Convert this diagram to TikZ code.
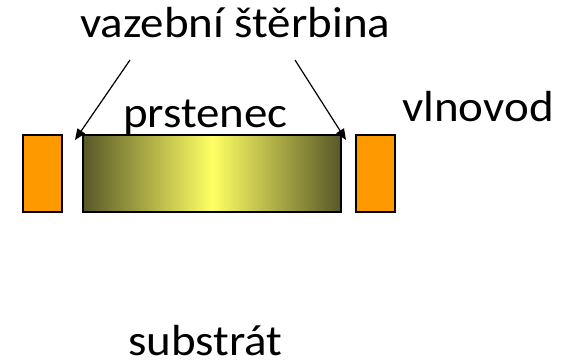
\documentclass[tikz,border=0pt]{standalone}
\usepackage{fontspec}
\setmainfont{Carlito}[FakeStretch=1.08]
\usetikzlibrary{arrows.meta}
\definecolor{wgorange}{RGB}{255,153,0}
\definecolor{ringdark}{RGB}{88,88,40}
\definecolor{ringlight}{RGB}{255,255,100}
\begin{document}
\begin{tikzpicture}[x=1pt,y=-1pt,
  lbl/.style={inner sep=0pt,font=\fontsize{43.5}{52}\selectfont,anchor=base west},
  guide/.style={draw,line width=1.3pt},
  ringbox/.style={draw,line width=1.5pt,left color=ringdark,right color=ringdark,middle color=ringlight},
  pointer/.style={line width=1.2pt,-{Triangle[width=9pt,length=11pt]}}]
\useasboundingbox (0,0) rectangle (561,362);
% waveguide cross-sections and the ring between them
\node[guide,fill=wgorange,minimum width=39pt,minimum height=77pt,inner sep=0pt] (wgl) at (42.5,173.5) {};
\node[ringbox,minimum width=258pt,minimum height=77pt,inner sep=0pt] (ring) at (212,173.5) {};
\node[guide,fill=wgorange,minimum width=39pt,minimum height=77pt,inner sep=0pt] (wgr) at (375.5,173.5) {};
% labels
\node[lbl] (gap) at (80,37) {vazební štěrbina};
\node[lbl] (ringlbl) at (123,127) {prstenec};
\node[lbl] (wglbl) at (402,121) {vlnovod};
\node[lbl] (sub) at (128,355) {substrát};
% coupling-gap pointers
\coordinate (gapL) at (130,60);
\coordinate (gapR) at (295,60);
\coordinate (tipL) at (75,140);
\coordinate (tipR) at (346,140);
\draw[pointer] (gapL) -- (tipL);
\draw[pointer] (gapR) -- (tipR);
\end{tikzpicture}
\end{document}
